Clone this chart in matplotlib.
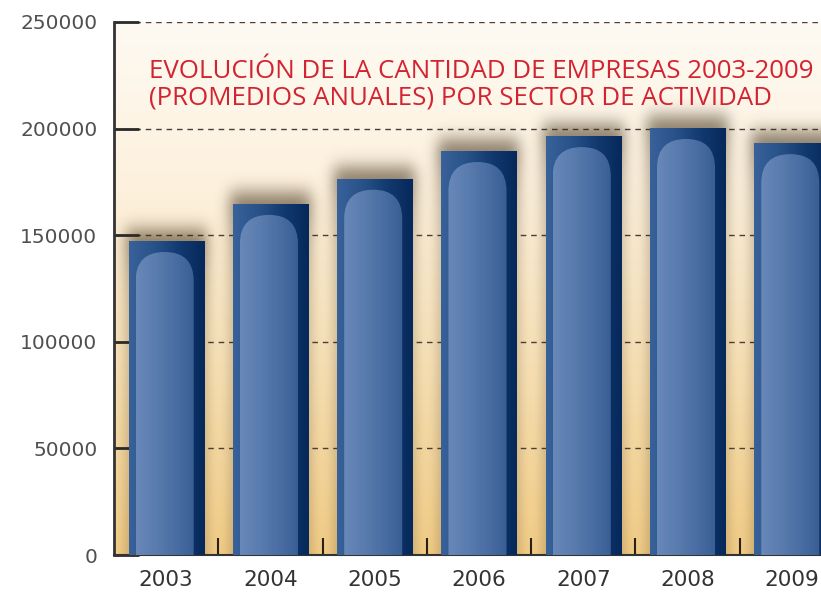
import numpy as np
import matplotlib
matplotlib.use("Agg")
from matplotlib import pyplot as plt
from matplotlib.colors import LinearSegmentedColormap
from matplotlib.patches import FancyBboxPatch

# datos
years = ["2003", "2004", "2005", "2006", "2007", "2008", "2009"]
empresas = [147300, 164700, 176500, 189500, 196500, 200300, 193200]
y_ticks = [0, 50000, 100000, 150000, 200000, 250000]
title_lines = ["EVOLUCIÓN DE LA CANTIDAD DE EMPRESAS 2003-2009",
               "(PROMEDIOS ANUALES) POR SECTOR DE ACTIVIDAD"]

plt.rcParams['font.family'] = ['Open Sans', 'DejaVu Sans']

fig = plt.figure(figsize=(8.21, 6.01), dpi=100)
ax = fig.add_axes([0.1389, 0.0765, 0.8611, 0.8869])

x = np.arange(len(years))
ymax = 250000
x_left, x_right = -0.5, 6.28
ax.set_xlim(x_left, x_right)
ax.set_ylim(0, ymax)

# fondo degradado vertical
bg = LinearSegmentedColormap.from_list("bg", ["#f5cf88", "#fae2b4", "#fdf0db", "#fefaf3"])
grad = np.linspace(0, 1, 256).reshape(-1, 1)
ax.imshow(grad, cmap=bg, aspect="auto", origin="lower",
          extent=(x_left, x_right, 0, ymax), zorder=0)

ax.grid(axis="y", color="#4a4036", linestyle=(0, (4, 3.5)), linewidth=1.0, zorder=1)
ax.set_axisbelow(True)

width = 0.72
px_unit_y = 533 / ymax   # píxeles por unidad vertical
px_unit_x = 104.2        # píxeles por unidad horizontal

# sombra difusa detrás de las barras (máscara desenfocada)
nx, ny = 707, 533
gx = np.linspace(x_left, x_right, nx)
gy = np.linspace(0, ymax, ny)
GX, GY = np.meshgrid(gx, gy)
mask = np.zeros_like(GX)
for xi, val in zip(x, empresas):
    top = val + 10 / px_unit_y
    inside = (np.abs(GX - xi) <= width / 2 + 3 / px_unit_x) & (GY <= top)
    w = 0.4 + 0.6 * np.exp(-(top - GY) / (40 / px_unit_y))
    mask = np.maximum(mask, inside * w)


def blur(a, sigma, axis):
    r = int(3 * sigma)
    k = np.exp(-0.5 * (np.arange(-r, r + 1) / sigma) ** 2)
    k /= k.sum()
    pad = [(0, 0), (0, 0)]
    pad[axis] = (r, r)
    ap = np.pad(a, pad, mode="edge")
    return np.apply_along_axis(lambda m: np.convolve(m, k, mode="valid"), axis, ap)


mask = blur(blur(mask, 9, 0), 7, 1)
shadow = np.zeros((ny, nx, 4))
shadow[..., :3] = np.array([0x3a, 0x2a, 0x12]) / 255
shadow[..., 3] = mask * 0.7
ax.imshow(shadow, aspect="auto", origin="lower",
          extent=(x_left, x_right, 0, ymax), zorder=2, interpolation="bilinear")

bars = ax.bar(x, empresas, width=width, color="#1e4478", zorder=3)

bar_cmap = LinearSegmentedColormap.from_list("bar", ["#3a629a", "#285289", "#123a70", "#06285a"])
hl_cmap = LinearSegmentedColormap.from_list("hl", ["#6888b8", "#5a7cae", "#4a6ea3", "#385e94"])
hgrad = np.linspace(0, 1, 256).reshape(1, -1)

for xi, val, b in zip(x, empresas, bars):
    im = ax.imshow(hgrad, cmap=bar_cmap, aspect="auto",
                   extent=(xi - width / 2, xi + width / 2, 0, val), zorder=3.1)
    im.set_clip_path(b)
    # brillo interior redondeado
    hx0 = xi - width / 2 + 7 / px_unit_x
    hw = 58 / px_unit_x
    top = val - 11 / px_unit_y
    rad = hw / 2
    asp = px_unit_x / px_unit_y
    hl = FancyBboxPatch((hx0 + rad, 0), hw - 2 * rad, top - rad * asp,
                        boxstyle=f"round,pad={rad}", mutation_aspect=asp,
                        facecolor="none", edgecolor="none", zorder=3.2)
    ax.add_patch(hl)
    him = ax.imshow(hgrad, cmap=hl_cmap, aspect="auto",
                    extent=(hx0, hx0 + hw, 0, top), zorder=3.3)
    him.set_clip_path(hl)

ax.set_xlim(x_left, x_right)
ax.set_ylim(0, ymax)

ax.set_xticks(x)
ax.set_xticklabels(years, fontsize=15.5, color="#333333", family="DejaVu Sans")
ax.set_xticks(x[:-1] + 0.5, minor=True)
ax.tick_params(axis="x", which="major", length=0, pad=11)
ax.tick_params(axis="x", which="minor", direction="in", length=12, width=1.5, color="#2a2016")
ax.set_yticks(y_ticks)
ax.set_yticklabels([str(t) for t in y_ticks], fontsize=14.5, color="#505050", family="DejaVu Sans")
ax.tick_params(axis="y", direction="in", length=18, width=2, color="#2a2a2a", pad=12)

for side in ["top", "right"]:
    ax.spines[side].set_visible(False)
ax.spines["left"].set_color("#333333")
ax.spines["left"].set_linewidth(2)
ax.spines["bottom"].set_color("#333333")
ax.spines["bottom"].set_linewidth(1.5)

ax.text(-0.16, 232500, title_lines[0] + "\n" + title_lines[1], color="#d42330",
        fontsize=18.6, va="top", ha="left", linespacing=1.05, zorder=5)

fig.savefig("out.png", dpi=100)
